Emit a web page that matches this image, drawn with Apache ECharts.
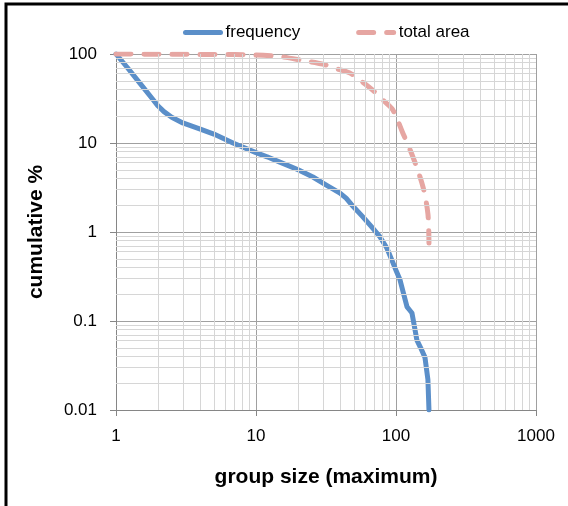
<!DOCTYPE html>
<html>
<head>
<meta charset="utf-8">
<script src="https://cdn.jsdelivr.net/npm/echarts@6/dist/echarts.min.js"></script>
<style>
html,body{margin:0;padding:0;background:#fff;}
#chart{width:568px;height:506px;}
</style>
</head>
<body>
<div id="chart"></div>
<script>
// Data
var freqX = [1, 1.2, 1.48, 1.8, 2.0, 2.2, 2.5, 3.0, 4.0, 5.0, 6.85, 10, 12, 14.8, 20, 25.5, 32, 39.8, 44, 48, 58, 67, 76.9, 86, 93.6, 100, 106.8, 113, 119.9, 125, 130, 135, 141, 150, 161, 169, 172];
var freqY = [100, 71, 47, 32, 26, 22.5, 19.5, 16.8, 14.3, 12.6, 10, 7.8, 7, 6.1, 5.0, 4.15, 3.35, 2.74, 2.4, 2.04, 1.48, 1.14, 0.88, 0.66, 0.48, 0.37, 0.29, 0.206, 0.144, 0.133, 0.123, 0.089, 0.061, 0.05, 0.039, 0.022, 0.01];
var areaX = [1, 2, 5, 10, 15.6, 22, 30, 38, 47, 57, 68.5, 82, 95, 112, 132, 156, 169, 172];
var areaY = [100, 99.5, 98.7, 97.5, 92.5, 84, 77, 68, 61, 49, 39, 29.6, 23.5, 12.9, 7, 3.2, 1.6, 0.75];
var xTicks = [1, 10, 100, 1000];
var yTicks = [0.01, 0.1, 1, 10, 100];

function zip(a, b) { return a.map(function (v, i) { return [v, b[i]]; }); }
function minorValues(ticks) {
  var out = [];
  for (var i = 0; i < ticks.length - 1; i++) {
    for (var k = 2; k <= 9; k++) out.push(ticks[i] * k);
  }
  return out;
}
var minorLine = { color: '#d6d6d6', width: 1, type: 'solid' };
var minorMarks = minorValues(xTicks).map(function (v) { return { xAxis: v }; })
  .concat(minorValues(yTicks).map(function (v) { return { yAxis: v }; }));

function fmt(v) { return String(+Number(v).toPrecision(6)); }

var FONT = 'Liberation Sans, Arial, sans-serif';
var chart = echarts.init(document.getElementById('chart'), null, { renderer: 'canvas' });
chart.setOption({
  animation: false,
  backgroundColor: '#fff',
  graphic: [{
    type: 'rect', z: 100,
    shape: { x: 6, y: 4, width: 700, height: 700 },
    style: { fill: 'none', stroke: '#000', lineWidth: 3 }
  }],
  grid: { left: 116, right: 32, top: 54, bottom: 96, containLabel: false },
  legend: {
    left: 178, top: 19,
    itemWidth: 35, itemHeight: 14, itemGap: 56,
    data: ['frequency', 'total area'],
    itemStyle: { opacity: 0 },
    lineStyle: { width: 5, cap: 'round' },
    textStyle: { fontFamily: FONT, fontSize: 17, color: '#000' }
  },
  xAxis: {
    type: 'log', logBase: 10, min: 1, max: 1000,
    name: 'group size (maximum)', nameLocation: 'middle', nameGap: 57,
    nameTextStyle: { fontFamily: FONT, fontSize: 21, fontWeight: 'bold', color: '#000' },
    axisLine: { show: true, lineStyle: { color: '#868686', width: 1 } },
    axisTick: { show: true, length: 6, lineStyle: { color: '#868686' } },
    axisLabel: { fontFamily: FONT, fontSize: 17, color: '#000', margin: 18, formatter: fmt },
    splitLine: { show: true, lineStyle: { color: '#a0a0a0', width: 1 } }
  },
  yAxis: {
    type: 'log', logBase: 10, min: 0.01, max: 100,
    name: 'cumulative %', nameLocation: 'middle', nameGap: 69, nameRotate: 90,
    nameTextStyle: { fontFamily: FONT, fontSize: 21, fontWeight: 'bold', color: '#000' },
    axisLine: { show: true, lineStyle: { color: '#868686', width: 1 } },
    axisTick: { show: true, length: 6, lineStyle: { color: '#868686' } },
    axisLabel: { fontFamily: FONT, fontSize: 17, color: '#000', margin: 19, formatter: fmt },
    splitLine: { show: true, lineStyle: { color: '#a0a0a0', width: 1 } }
  },
  series: [
    {
      name: 'grid-minor', type: 'line', data: [[1, 100]], symbol: 'none', silent: true,
      lineStyle: { opacity: 0 }, z: 1,
      markLine: { silent: true, symbol: 'none', label: { show: false }, lineStyle: minorLine, data: minorMarks, animation: false }
    },
    {
      name: 'frequency', type: 'line', data: zip(freqX, freqY), symbol: 'none', showSymbol: false, z: 3,
      lineStyle: { color: '#5b8fc9', width: 5, cap: 'round', join: 'round' },
      itemStyle: { color: '#5b8fc9' }
    },
    {
      name: 'total area', type: 'line', data: zip(areaX, areaY), symbol: 'none', showSymbol: false, smooth: 0.3, z: 4,
      lineStyle: { color: '#e6a6a2', width: 5, type: [15, 13], cap: 'round', join: 'round' },
      itemStyle: { color: '#e6a6a2' }
    }
  ]
});
</script>
</body>
</html>
